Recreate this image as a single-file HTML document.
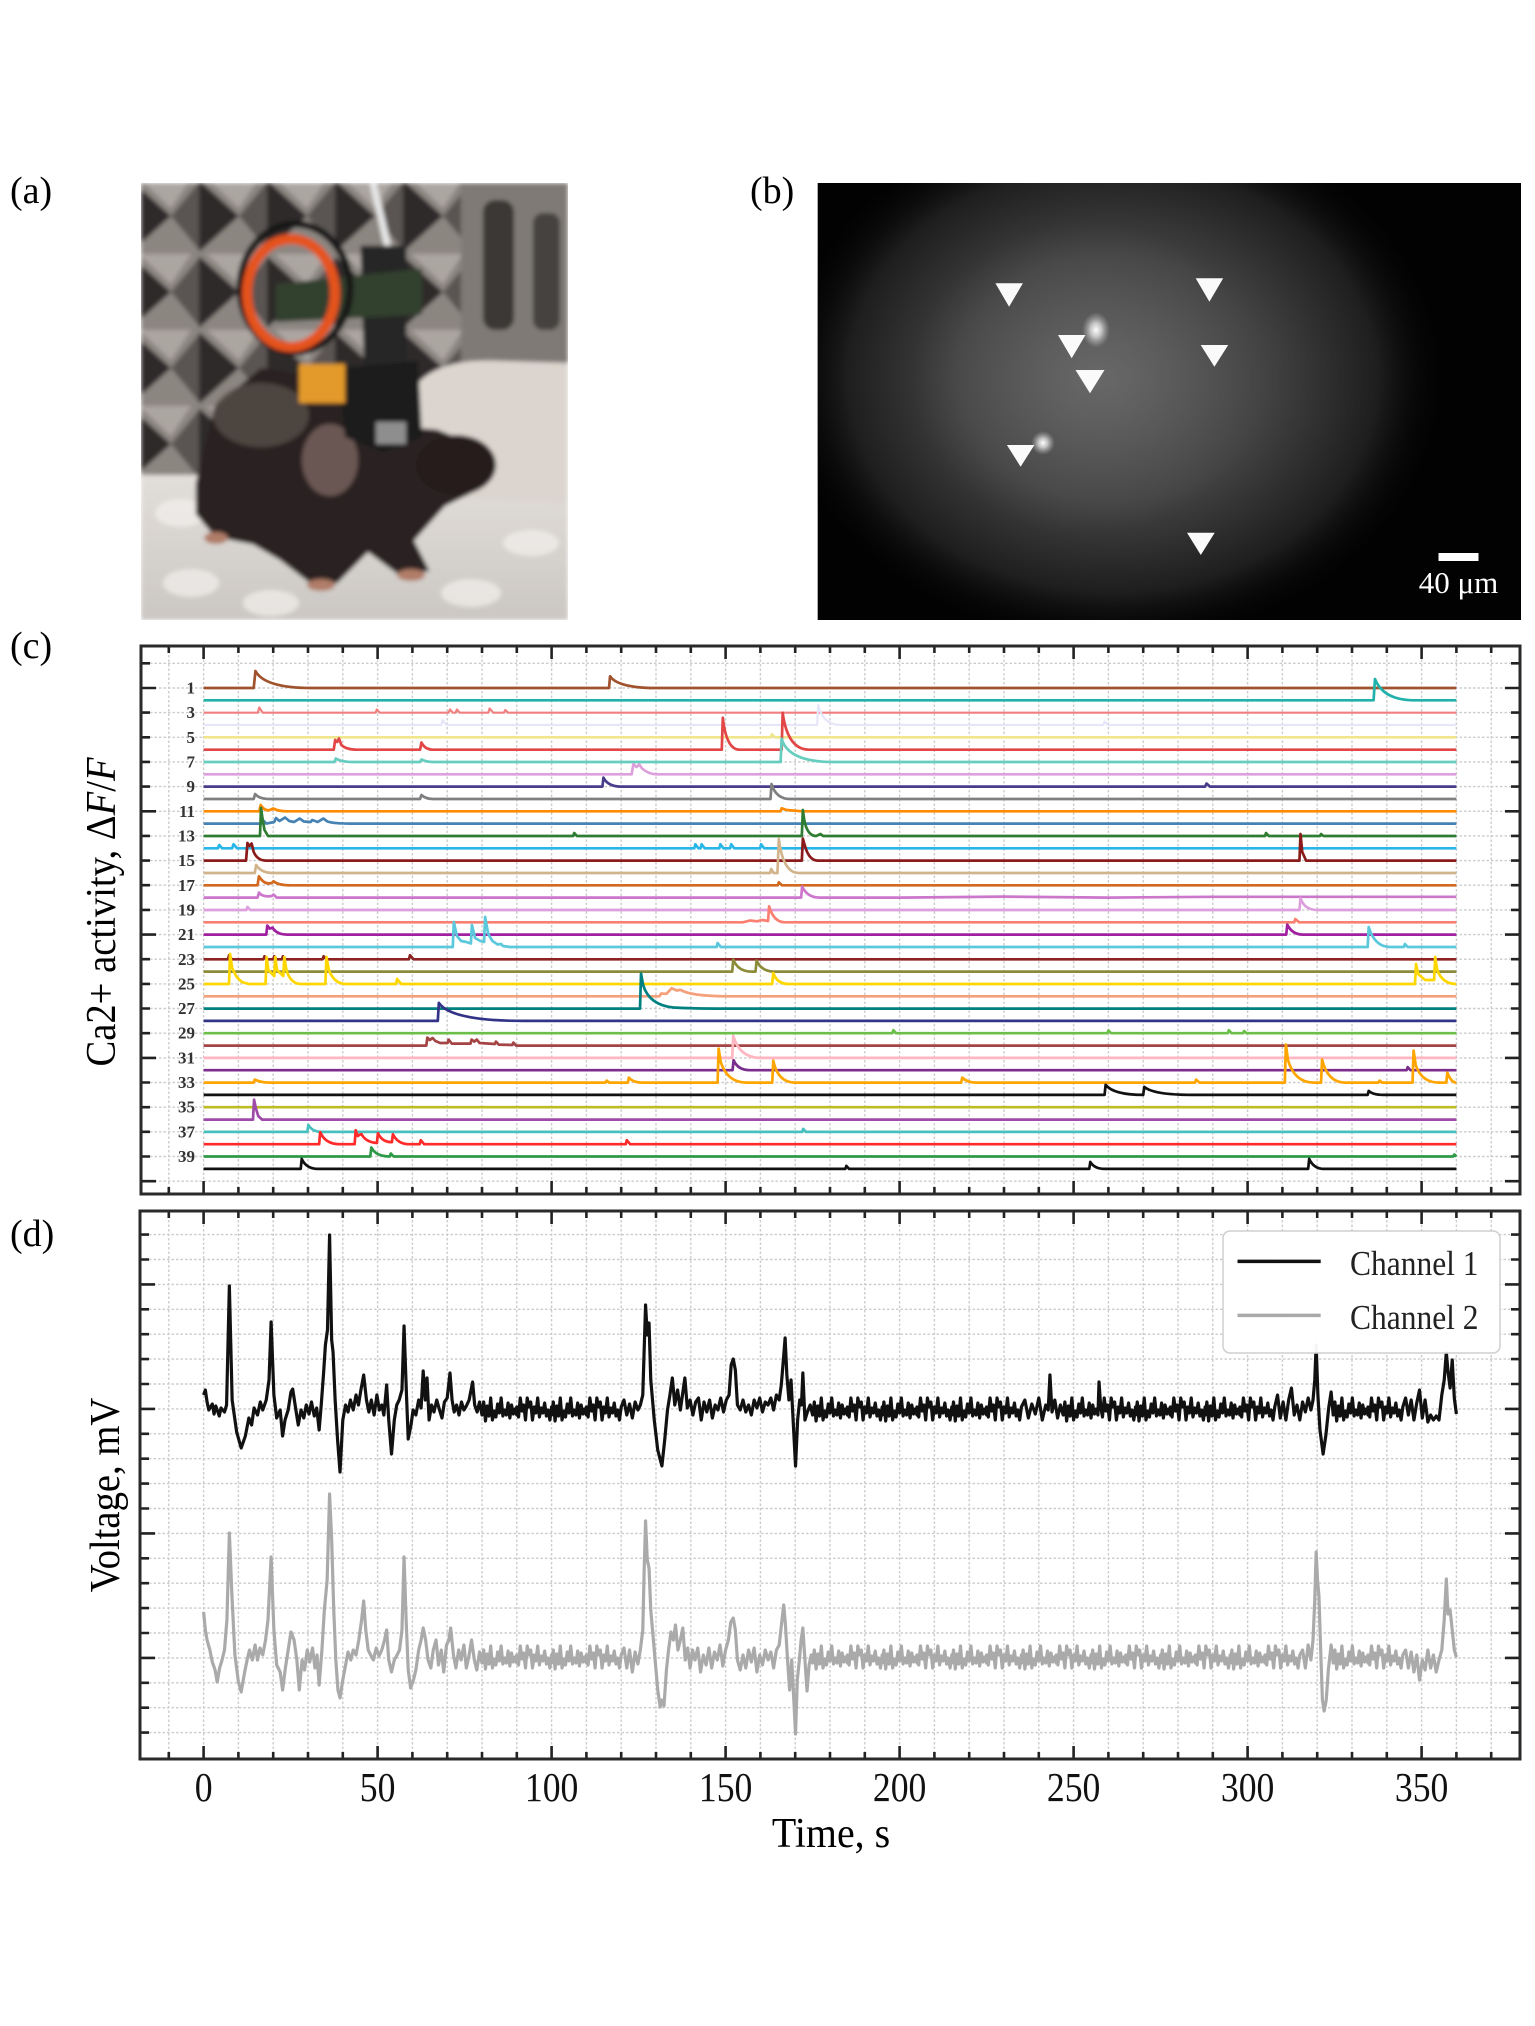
<!DOCTYPE html>
<html><head><meta charset="utf-8">
<style>
html,body{margin:0;padding:0;background:#fff;}
body{width:1535px;height:2026px;overflow:hidden;}
svg{display:block;}
.s path{vector-effect:non-scaling-stroke;}
text{font-family:"Liberation Serif",serif;}
</style></head>
<body>
<svg width="1535" height="2026" viewBox="0 0 1535 2026" xmlns="http://www.w3.org/2000/svg">
<defs>
<g id="xt" stroke="#222" stroke-width="2.6">
<path d="M203.6 0v13M377.6 0v13M551.6 0v13M725.6 0v13M899.6 0v13M1073.6 0v13M1247.6 0v13M1421.6 0v13"/>
<path d="M168.8 0v7M238.4 0v7M273.2 0v7M308 0v7M342.8 0v7M412.4 0v7M447.2 0v7M482 0v7M516.8 0v7M586.4 0v7M621.2 0v7M656 0v7M690.8 0v7M760.4 0v7M795.2 0v7M830 0v7M864.8 0v7M934.4 0v7M969.2 0v7M1004 0v7M1038.8 0v7M1108.4 0v7M1143.2 0v7M1178 0v7M1212.8 0v7M1282.4 0v7M1317.2 0v7M1352 0v7M1386.8 0v7M1456.4 0v7M1491.2 0v7"/>
</g>
<path id="yc" stroke="#222" stroke-width="2.6" d="M0 663.3h9M0 688h15M0 712.6h9M0 737.3h9M0 761.9h9M0 786.6h9M0 811.3h15M0 835.9h9M0 860.6h9M0 885.2h9M0 909.9h9M0 934.6h15M0 959.2h9M0 983.9h9M0 1008.5h9M0 1033.2h9M0 1057.9h15M0 1082.5h9M0 1107.2h9M0 1131.8h9M0 1156.5h9M0 1181.2h15"/>
<path id="yd" stroke="#222" stroke-width="2.6" d="M0 1234.6h9M0 1259.5h9M0 1284.4h15M0 1309.3h9M0 1334.2h9M0 1359.1h9M0 1384h9M0 1408.9h15M0 1433.8h9M0 1458.7h9M0 1483.6h9M0 1508.5h9M0 1533.4h15M0 1558.3h9M0 1583.2h9M0 1608.1h9M0 1633h9M0 1657.9h15M0 1682.8h9M0 1707.7h9M0 1732.6h9"/>
<path id="vg" stroke="#cccccc" stroke-width="1.4" stroke-dasharray="2.5 2" fill="none" d="M168.8 0V548M203.6 0V548M238.4 0V548M273.2 0V548M308 0V548M342.8 0V548M377.6 0V548M412.4 0V548M447.2 0V548M482 0V548M516.8 0V548M551.6 0V548M586.4 0V548M621.2 0V548M656 0V548M690.8 0V548M725.6 0V548M760.4 0V548M795.2 0V548M830 0V548M864.8 0V548M899.6 0V548M934.4 0V548M969.2 0V548M1004 0V548M1038.8 0V548M1073.6 0V548M1108.4 0V548M1143.2 0V548M1178 0V548M1212.8 0V548M1247.6 0V548M1282.4 0V548M1317.2 0V548M1352 0V548M1386.8 0V548M1421.6 0V548M1456.4 0V548M1491.2 0V548"/>
</defs>

<!-- Panel labels -->
<text x="10" y="203" font-size="38">(a)</text>
<text x="750" y="203" font-size="38">(b)</text>
<text x="10" y="658" font-size="38">(c)</text>
<text x="10" y="1246" font-size="38">(d)</text>

<!-- (a) photo -->
<svg x="141" y="183" width="427" height="437" viewBox="0 0 427 437">
<defs>
<pattern id="foam" width="68" height="76" patternUnits="userSpaceOnUse" x="-10" y="-5">
<rect width="68" height="76" fill="#8c8681"/>
<polygon points="0,2 40,38 0,74" fill="#2f2b29"/>
<polygon points="40,38 68,4 68,72" fill="#5a5552"/>
<polygon points="8,0 60,0 40,30" fill="#aca6a1"/>
</pattern>
<filter id="bl" x="-5%" y="-5%" width="110%" height="110%"><feGaussianBlur stdDeviation="2"/></filter>
<linearGradient id="flr" x1="0" y1="0" x2="0" y2="1"><stop offset="0" stop-color="#e2deda"/><stop offset="1" stop-color="#cbc7c3"/></linearGradient>
</defs>
<g filter="url(#bl)">
<rect width="427" height="437" fill="#807a76"/>
<rect x="0" y="0" width="335" height="300" fill="url(#foam)"/>
<rect x="320" y="0" width="107" height="200" fill="#7f7a76"/>
<rect x="342" y="17" width="31" height="130" rx="12" fill="#3a3735"/>
<rect x="392" y="30" width="27" height="117" rx="10" fill="#454240"/>
<rect x="0" y="292" width="427" height="145" fill="url(#flr)"/>
<ellipse cx="40" cy="330" rx="26" ry="14" fill="#f2efec" opacity=".7"/>
<ellipse cx="50" cy="400" rx="28" ry="14" fill="#f2efec" opacity=".7"/>
<ellipse cx="130" cy="420" rx="28" ry="13" fill="#f2efec" opacity=".7"/>
<ellipse cx="330" cy="410" rx="30" ry="14" fill="#f2efec" opacity=".7"/>
<ellipse cx="390" cy="360" rx="28" ry="13" fill="#f2efec" opacity=".7"/>
<path d="M277 200Q300 175 360 178L427 180L427 320L300 315Q275 260 277 200Z" fill="#dcd5cf"/>
<line x1="232" y1="0" x2="258" y2="112" stroke="#e6e6e6" stroke-width="7"/>
<path d="M54.8 300L74 223.5L120 185L173.6 193L208 208L250 243L296 246.5L334.5 262L353.6 285L334.5 308L304 323L273 357.6L288.5 388L258 392L227 369L196.5 400L173.6 403.6L139 377L112 361.4L74 354L54.8 331Z" fill="#2c2422"/>
<ellipse cx="120" cy="232" rx="48" ry="32" fill="#5a504a" opacity=".75"/>
<ellipse cx="315" cy="282" rx="40" ry="30" fill="#261d1b"/>
<ellipse cx="189" cy="277" rx="28" ry="36" fill="#6a5652"/>
<ellipse cx="75" cy="355" rx="12" ry="6" fill="#b07d68"/>
<ellipse cx="270" cy="392" rx="14" ry="6" fill="#b07d68"/>
<ellipse cx="180" cy="402" rx="14" ry="6" fill="#b07d68"/>
<polygon points="219.5,62.6 265.5,62.6 265.5,185 223,185" fill="#262626"/>
<polygon points="196.5,185 277,177.5 281,254 242.5,269.5 204,254" fill="#1b1b1b"/>
<rect x="235" y="239" width="30" height="22" fill="#8e8e8e"/>
<polygon points="135,101 281,85.6 281,131.6 135,139" fill="#33402f"/>
<ellipse cx="154" cy="105" rx="55" ry="64" fill="none" stroke="#161616" stroke-width="7"/>
<ellipse cx="150" cy="110" rx="44" ry="54" fill="none" stroke="#e6521f" stroke-width="10"/>
<rect x="158" y="181" width="46" height="39" fill="#e39a2c"/>
</g>
</svg>

<!-- (b) fluorescence image -->
<svg x="817.6" y="183" width="703.4" height="437" viewBox="0 0 703.4 437">
<defs>
<radialGradient id="g1" cx="0.5" cy="0.5" r="0.5"><stop offset="0" stop-color="#5a5a5a"/><stop offset="0.45" stop-color="#434343"/><stop offset="0.78" stop-color="#1e1e1e"/><stop offset="1" stop-color="#000" stop-opacity="0"/></radialGradient>
<radialGradient id="g2"><stop offset="0" stop-color="#7a7a7a" stop-opacity="0.45"/><stop offset="1" stop-color="#7a7a7a" stop-opacity="0"/></radialGradient>
<radialGradient id="g3"><stop offset="0" stop-color="#fff"/><stop offset="0.4" stop-color="#ddd" stop-opacity="0.8"/><stop offset="1" stop-color="#aaa" stop-opacity="0"/></radialGradient>
</defs>
<rect width="703.4" height="437" fill="#020202"/>
<ellipse cx="295" cy="195" rx="340" ry="275" fill="url(#g1)"/>
<ellipse cx="270" cy="195" rx="175" ry="155" fill="url(#g2)"/>
<ellipse cx="278.4" cy="147" rx="14" ry="18" fill="url(#g3)"/>
<ellipse cx="225.4" cy="260" rx="12" ry="12" fill="url(#g3)"/>
<g fill="#fafafa">
<polygon points="177.8,100.3 205.3,100.3 191.5,123.7"/>
<polygon points="378.1,95.3 405.6,95.3 391.8,118.7"/>
<polygon points="240.4,152 267.9,152 254.1,175.3"/>
<polygon points="383.1,162 410.6,162 396.8,183.7"/>
<polygon points="257.9,187 286.9,187 272.4,210.3"/>
<polygon points="189.3,262 216.8,262 203,283.7"/>
<polygon points="369.4,349.7 397.1,349.7 383.2,372"/>
</g>
<rect x="620.9" y="370" width="40" height="8" fill="#fff"/>
<text x="640.9" y="410" font-size="31" fill="#fff" text-anchor="middle">40 μm</text>
</svg>

<!-- (c) plot -->
<rect x="141" y="646" width="1379" height="548" fill="#fff"/>
<use href="#vg" y="646"/>
<path stroke="#cccccc" stroke-width="1.4" stroke-dasharray="2.5 2" fill="none" d="M141 663.3H1520M141 688H1520M141 712.6H1520M141 737.3H1520M141 761.9H1520M141 786.6H1520M141 811.3H1520M141 835.9H1520M141 860.6H1520M141 885.2H1520M141 909.9H1520M141 934.6H1520M141 959.2H1520M141 983.9H1520M141 1008.5H1520M141 1033.2H1520M141 1057.9H1520M141 1082.5H1520M141 1107.2H1520M141 1131.8H1520M141 1156.5H1520M141 1181.2H1520"/>

<g class="s" transform="translate(203.6,0) scale(3.48,1)" fill="none" stroke-width="2.7" stroke-linejoin="round">
<path stroke="#a0522d" d="M0 688H14.4L14.9 671Q17.5 688 31 688H116.5L116.8 676.3Q119 688 130 688H360"/>
<path stroke="#20b2aa" d="M0 700.3H336.2L336.6 679Q339 700.3 348 700.3H360"/>
<path stroke="#f08080" stroke-width="2.2" d="M0 712.7H15.6L16 707.5L17 712.7H49.4L49.8 709.5L50.6 712.7H70.4L70.8 709.5L71.6 712.7H72.4L72.8 709.5L73.6 712.7H81.8L82.2 708.5L83.2 712.7H86.3L86.7 710L87.5 712.7H360"/>
<path stroke="#e6e6fa" stroke-width="2.2" d="M0 725H68.3L68.7 720L69.8 725H176.3L176.6 705Q178 725 183 725H258.5L258.9 721.5L259.8 725H360"/>
<path stroke="#f0e68c" d="M0 737.3H163L163.3 734.3L164.2 737.3H360"/>
<path stroke="#e34646" d="M0 749.7H37.4L37.8 740L38.4 742L38.9 738.5L39.6 745Q41 749.7 44 749.7H62.2L62.6 742.5Q63.6 749.7 66 749.7H148.9L149.2 717.7Q150.2 749.7 154 749.7H166.1L166.4 712.7Q167.8 749.7 174 749.7H360"/>
<path stroke="#66cdbf" d="M0 762H37.6L38 758.5Q39.5 762 43 762H62.2L62.6 759.5Q64 762 66 762H165.8L166.1 738.7Q168 762 181 762H360"/>
<path stroke="#dda0dd" d="M0 774.3H123L123.5 764.3L124.4 767L125.2 764.5L126 768.5Q128 774.3 130 774.3H360"/>
<path stroke="#483d8b" d="M0 786.6H114.6L114.9 777.6Q116.2 786.6 120 786.6H287.8L288.2 783.5L289.2 786.6H360"/>
<path stroke="#808080" d="M0 799H14.4L14.8 794Q16 799 19 799H62.2L62.6 795Q63.8 799 66 799H162.9L163.2 784Q164.5 799 168.5 799H360"/>
<path stroke="#ff8c00" d="M0 811.3H16L16.4 805Q17.5 811.3 19 810L20 808.5Q21.5 811.3 24 811.3H165.8L166.1 808.3L167.5 810L172 811.3H360"/>
<path stroke="#4682b4" d="M0 823.6H16.6L17 820L18 823.6L20.3 822L20.8 818L21.8 821L23.4 817.5L24.6 821L26 822L27.6 818.5L28.8 821.5L30.8 822L31.2 820L32.8 822L34.4 818.5L35.6 821.5Q37.5 823.6 42 823.6H360"/>
<path stroke="#2e7d32" d="M0 836H16.2L16.5 808L16.9 818L17.5 830L18.5 836H106.2L106.5 833L107.3 836H171.9L172.2 810L172.6 820Q173.5 836 176 836L177.3 834L178 836H305L305.3 833L306.1 836H320.8L321.1 834L321.8 836H360"/>
<path stroke="#29b6e8" d="M0 848.3H4.1L4.5 845L5.3 848.3H8.2L8.6 844.3L9.6 848.3H141L141.3 844.3L142.2 848.3H142.8L143.1 844.3L144 848.3H148.2L148.5 844.3L149.4 848.3H151.3L151.6 844.3L152.5 848.3H159.9L160.2 844.3L161.1 848.3H360"/>
<path stroke="#8b1a1a" d="M0 860.6H12.2L12.6 843L13.2 846L13.8 843.5L14.4 852Q15.5 860.6 18 860.6H171.9L172.2 838.6L172.8 846Q174 860.6 176.5 860.6H314.9L315.2 834L315.7 852L316.8 860.6H360"/>
<path stroke="#d2b48c" d="M0 873H14.7L15.1 865Q16.5 873 20 873H162.8L163.1 869L163.8 873H164.9L165.3 839Q166.5 873 171 873H360"/>
<path stroke="#d2691e" d="M0 885.3H15.5L15.9 876.3Q17.5 885.3 19.6 883L20.1 881.3Q21.5 885.3 25 885.3H165L165.3 882.3L166.2 885.3H360"/>
<path stroke="#cc77cc" d="M0 897.6H15.5L15.9 892.6Q17 897.6 19.6 896L20.1 894.6L21 897.6H171.7L172 886.6Q173.5 897.6 177 897.6H200L230 896.6L260 897.6L290 896.8H360"/>
<path stroke="#dda0dd" d="M0 910H12.3L12.6 907L13.4 910H314.9L315.2 898Q316.3 910 320 910H360"/>
<path stroke="#fa8072" d="M0 922.3H155L157 920.5L159 921.3L160.5 920L162.2 921L162.5 906.3Q163.8 922.3 167 922.3H313.4L313.7 919L314.8 922.3H360"/>
<path stroke="#a020a0" d="M0 934.6H18L18.3 925.6L19 928.6L19.8 927.6Q21 934.6 24 934.6H311.1L311.4 924.6Q312.8 934.6 316 934.6H360"/>
<path stroke="#5bc8dc" d="M0 947H71.6L71.9 922L72.8 936L74 941L75.5 942L76.8 943.5L77.1 925L78 938L79.5 941L80.6 942L80.9 917L81.8 934L83 941L84.5 944.5L85.5 944L86 946L88 947H147.4L147.7 943L148.6 947H334.5L334.8 927Q336.5 947 341 947H344.9L345.2 944L346 947H360"/>
<path stroke="#8b2323" d="M0 959.3H7L7.3 955.3L8.1 959.3H17.2L17.5 956.3L18.2 959.3H20L20.3 956.3L21 959.3H22.5L22.8 956.3L23.5 959.3H34.2L34.5 956.3L35.3 959.3H59L59.3 955.3L60.3 959.3H360"/>
<path stroke="#8b8b3a" d="M0 971.6H151.9L152.2 959.6Q153.6 971.6 157.5 971.6H158.6L158.9 960.6Q160.3 971.6 164 971.6H360"/>
<path stroke="#ffd700" d="M0 984H7.3L7.6 954L8.2 968L9.5 977L11 982L13 984H17.8L18.1 957L18.6 970L20.3 976L20.6 957L21.1 970L22.9 976L23.2 957L23.8 970Q25 984 28 984H35L35.3 957L36 970Q37.5 984 41 984H55.3L55.6 979L56.8 984H163.4L163.7 973Q164.8 984 168 984H348.1L348.4 964L349 974L351 980L353.6 980L353.9 957L354.5 970Q356 984 360 984"/>
<path stroke="#f4a07a" d="M0 996.3H131L131.5 993.5L133 993.8L134.5 988.3L136 990.5L137 989.8Q140 996 150 996.3H360"/>
<path stroke="#008080" d="M0 1008.6H125.4L125.7 973.6L126.3 985Q128 1005 135 1007.5Q140 1008.6 150 1008.6H360"/>
<path stroke="#333388" d="M0 1020.9H67.3L67.6 1002.9Q71 1020.9 92 1020.9H360"/>
<path stroke="#6cc04a" d="M0 1033.2H197.9L198.2 1030.2L199 1033.2H259.7L260 1030.5L260.8 1033.2H294.3L294.6 1030.2L295.4 1033.2H298.7L299 1031L299.7 1033.2H360"/>
<path stroke="#a54444" d="M0 1045.6H64L64.3 1037.6L65 1040L65.8 1038L66.6 1041L68 1043L70.1 1043L70.4 1039.6L71.3 1043.6L76.7 1043.6L77 1039.6L77.8 1041.6L78.5 1039.6L79.3 1043L83.7 1044L84 1041.6L84.8 1044.6L88.7 1045L89 1042.6L89.8 1045.6H360"/>
<path stroke="#ffb6c1" d="M0 1057.9H151.9L152.2 1035.9Q154 1057.9 160 1057.9H360"/>
<path stroke="#7b2d8e" d="M0 1070.2H152L152.3 1060.2Q153.5 1070.2 157 1070.2H345.7L346 1067.2L346.8 1070.2H360"/>
<path stroke="#ffa500" d="M0 1082.6H14.4L14.7 1079.6Q16.5 1082.6 19 1082.6H115.5L115.8 1080.6L116.6 1082.6H121.9L122.2 1077.6Q123.5 1082.6 126 1082.6H147.7L148 1048.6L148.6 1062Q150.5 1082.6 156 1082.6H163.4L163.7 1060.6Q165 1082.6 170 1082.6H217.7L218 1077.6Q219.5 1082.6 222 1082.6H284.9L285.2 1079.6L286.2 1082.6H310.7L311 1044.6L311.6 1060Q313.5 1082.6 319 1082.6H321.1L321.4 1059.6Q323 1082.6 328 1082.6H337.6L337.9 1080.6L338.7 1082.6H347.4L347.7 1050.6L348.3 1065Q350 1082.6 355 1082.6H357.1L357.4 1072.6Q358.5 1082.6 360 1082.6"/>
<path stroke="#111" d="M0 1094.9H258.9L259.2 1084.9Q261.5 1094.9 270 1094.9L270.3 1086.9Q273 1094.9 284 1094.9H334.5L334.8 1090.9Q336 1094.9 339 1094.9H360"/>
<path stroke="#bcbd22" d="M0 1107.2H360"/>
<path stroke="#9e4aa8" d="M0 1119.6H14.2L14.5 1099.6L15 1108L15.7 1116L16.8 1119.6H360"/>
<path stroke="#48c0c0" d="M0 1131.9H29.8L30.1 1124.9Q31.2 1131.9 34 1131.9H172L172.3 1128.9L173.1 1131.9H360"/>
<path stroke="#ff2a2a" d="M0 1144.2H33.2L33.5 1132.2Q35 1144.2 39 1144.2H43.4L43.7 1130.2L44.3 1136L45.1 1134.2L45.4 1134.2Q46.5 1142 49.8 1143L50.1 1133.2Q51.3 1142.2 54.1 1142.2L54.4 1134.2Q55.8 1144.2 59 1144.2H62.1L62.4 1140.2L63.4 1144.2H121.3L121.6 1140.2L122.6 1144.2H360"/>
<path stroke="#2e9a48" d="M0 1156.5H47.9L48.2 1147.5Q49.5 1156.5 53.5 1156.5L53.8 1153.5L54.6 1156.5H359.1L359.4 1154.5L360 1156.5"/>
<path stroke="#111" d="M0 1168.9H27.9L28.2 1158.9Q29.5 1168.9 33 1168.9H184.4L184.7 1165.9L185.5 1168.9H254.5L254.8 1161.9Q256 1168.9 259 1168.9H317.4L317.7 1158.9Q319 1168.9 322 1168.9H360"/>
</g>

<g font-size="17" font-weight="bold" fill="#333" text-anchor="end">
<text x="195" y="693.5">1</text><text x="195" y="718.2">3</text><text x="195" y="742.8">5</text><text x="195" y="767.5">7</text><text x="195" y="792.1">9</text><text x="195" y="816.8">11</text><text x="195" y="841.5">13</text><text x="195" y="866.1">15</text><text x="195" y="890.8">17</text><text x="195" y="915.5">19</text><text x="195" y="940.1">21</text><text x="195" y="964.8">23</text><text x="195" y="989.5">25</text><text x="195" y="1014.1">27</text><text x="195" y="1038.7">29</text><text x="195" y="1063.4">31</text><text x="195" y="1088.1">33</text><text x="195" y="1112.7">35</text><text x="195" y="1137.4">37</text><text x="195" y="1162">39</text>
</g>

<use href="#xt" transform="translate(0,646)"/>
<use href="#xt" transform="translate(0,1194) scale(1,-1)"/>
<use href="#yc" transform="translate(141,0)"/>
<use href="#yc" transform="translate(1520,0) scale(-1,1)"/>
<rect x="141" y="646" width="1379" height="548" fill="none" stroke="#2a2a2a" stroke-width="3"/>

<text transform="translate(115,912) rotate(-90) scale(0.92,1)" font-size="42" text-anchor="middle">Ca2+ activity, Δ<tspan font-style="italic">F</tspan>/<tspan font-style="italic">F</tspan></text>

<!-- (d) plot -->
<rect x="140" y="1211" width="1380" height="548" fill="#fff"/>
<use href="#vg" y="1211"/>
<path stroke="#cccccc" stroke-width="1.4" stroke-dasharray="2.5 2" fill="none" d="M140 1234.6H1520M140 1259.5H1520M140 1284.4H1520M140 1309.3H1520M140 1334.2H1520M140 1359.1H1520M140 1384H1520M140 1408.9H1520M140 1433.8H1520M140 1458.7H1520M140 1483.6H1520M140 1508.5H1520M140 1533.4H1520M140 1558.3H1520M140 1583.2H1520M140 1608.1H1520M140 1633H1520M140 1657.9H1520M140 1682.8H1520M140 1707.7H1520M140 1732.6H1520"/>

<g class="s" transform="translate(203.6,0) scale(3.48,1)" fill="none" stroke-width="3.2" stroke-linejoin="round">
<path stroke="#aaaaaa" d="M0 1612L0.5 1630L1 1640L1.8 1650L2.5 1662L3.3 1670L3.9 1682L4.6 1668L5.3 1660L6 1650L6.7 1620L7.4 1533L8.2 1600L9 1655L10 1682L10.8 1692L11.8 1672L12.5 1660L13.2 1650L14 1660L14.8 1645L15.5 1660L16.2 1648L17 1655L17.8 1640L18.5 1620L19.4 1557L20.2 1630L21 1665L22 1672L22.7 1690L23.5 1668L24.3 1650L25.1 1632L26 1640L26.8 1660L27.5 1690L28.3 1660L29 1670L29.8 1650L30.5 1662L31.3 1648L32 1668L32.6 1655L33.2 1685L34 1650L34.7 1610L35.5 1580L36.2 1494L36.8 1540L37.4 1610L38 1660L38.6 1690L39.2 1698L40 1680L40.8 1665L41.5 1652L42.3 1660L43 1650L43.8 1655L44.6 1640L45.4 1620L46 1601L46.6 1630L47.3 1650L48 1655L48.8 1660L49.6 1648L50.4 1656L51.2 1650L52 1640L52.6 1630L53.2 1660L54 1672L54.8 1660L55.6 1655L56.3 1650L57 1630L57.6 1557L58.2 1620L58.8 1670L59.5 1688L60.3 1680L61 1670L61.8 1650L62.5 1640L63.1 1628L63.8 1640L64.5 1660L65.3 1668L66 1650L66.8 1640L67.5 1665L68.3 1650L69 1672L69.8 1645L70.5 1640L71 1628L71.8 1655L72.5 1668L73.3 1650L74 1660L74.8 1645L75.5 1668L76.3 1655L77 1640L77.8 1660L78.5 1670L79.3 1652L80 1663l.5 -13l.5 19l.5 -15l.5 10l.5 -18l.5 22l.5 -9l.5 6l.5 -13l.5 9l.5 -15l.5 18l.5 -6l.5 5l.5 -12l.5 15l.5 -13l.5 9l.5 -5l.5 6L90 1655l.5 10l.5 -19l.5 13l.5 -6l.5 15l.5 -22l.5 9l.5 -5l.5 18l.5 -13l.5 6l.5 -15l.5 19l.5 -9l.5 5l.5 -10l.5 13l.5 -6l.5 10l.5 -13L100 1663l.5 -13l.5 19l.5 -15l.5 10l.5 -18l.5 22l.5 -9l.5 6l.5 -13l.5 9l.5 -15l.5 18l.5 -6l.5 5l.5 -12l.5 15l.5 -13l.5 9l.5 -5l.5 6L110 1655l.5 10l.5 -19l.5 13l.5 -6l.5 15l.5 -22l.5 9l.5 -5l.5 18l.5 -13l.5 6l.5 -15l.5 19l.5 -9l.5 5l.5 -10l.5 13l.5 -6l.5 10l.5 -13L120.8 1648L121.6 1668L122.4 1650L123.2 1672L124 1652L124.8 1664L125.5 1650L126.2 1630L126.6 1570L127 1521L127.5 1560L128 1568L128.5 1610L129.5 1650L130.5 1690L131.2 1707L131.7 1700L132.3 1706L133 1670L133.6 1650L134.3 1632L135 1640L135.6 1625L136.3 1650L137 1640L137.7 1628L138.4 1660L139.1 1648L139.8 1668L140.5 1650L141.2 1660L142 1648L142.8 1672L143.6 1655L144.4 1665L145.2 1648L146 1668L146.8 1652L147.6 1660L148.4 1645L149.2 1666L150 1650L150.8 1640L151.5 1622L152.2 1618L152.8 1630L153.4 1660L154.2 1670L155 1655L155.8 1668L156.6 1650L157.4 1662L158.2 1648L159 1672L159.8 1655L160.6 1665L161.4 1650L162.2 1660L163 1652L163.8 1668L164.6 1650L165.4 1645L166.2 1620L166.7 1605L167.2 1625L167.8 1660L168.4 1690L169 1660L169.6 1700L170.1 1734L170.6 1680L171.2 1660L171.7 1640L172.2 1628L172.8 1660L173.4 1691L174 1665L174.6 1655L175 1663l.5 -13l.5 19l.5 -15l.5 10l.5 -18l.5 22l.5 -9l.5 6l.5 -13l.5 9l.5 -15l.5 18l.5 -6l.5 5l.5 -12l.5 15l.5 -13l.5 9l.5 -5l.5 6L185 1655l.5 10l.5 -19l.5 13l.5 -6l.5 15l.5 -22l.5 9l.5 -5l.5 18l.5 -13l.5 6l.5 -15l.5 19l.5 -9l.5 5l.5 -10l.5 13l.5 -6l.5 10l.5 -13L195 1663l.5 -13l.5 19l.5 -15l.5 10l.5 -18l.5 22l.5 -9l.5 6l.5 -13l.5 9l.5 -15l.5 18l.5 -6l.5 5l.5 -12l.5 15l.5 -13l.5 9l.5 -5l.5 6L205 1655l.5 10l.5 -19l.5 13l.5 -6l.5 15l.5 -22l.5 9l.5 -5l.5 18l.5 -13l.5 6l.5 -15l.5 19l.5 -9l.5 5l.5 -10l.5 13l.5 -6l.5 10l.5 -13L215 1663l.5 -13l.5 19l.5 -15l.5 10l.5 -18l.5 22l.5 -9l.5 6l.5 -13l.5 9l.5 -15l.5 18l.5 -6l.5 5l.5 -12l.5 15l.5 -13l.5 9l.5 -5l.5 6L225 1655l.5 10l.5 -19l.5 13l.5 -6l.5 15l.5 -22l.5 9l.5 -5l.5 18l.5 -13l.5 6l.5 -15l.5 19l.5 -9l.5 5l.5 -10l.5 13l.5 -6l.5 10l.5 -13L235 1663l.5 -13l.5 19l.5 -15l.5 10l.5 -18l.5 22l.5 -9l.5 6l.5 -13l.5 9l.5 -15l.5 18l.5 -6l.5 5l.5 -12l.5 15l.5 -13l.5 9l.5 -5l.5 6L245 1655l.5 10l.5 -19l.5 13l.5 -6l.5 15l.5 -22l.5 9l.5 -5l.5 18l.5 -13l.5 6l.5 -15l.5 19l.5 -9l.5 5l.5 -10l.5 13l.5 -6l.5 10l.5 -13L255 1663l.5 -13l.5 19l.5 -15l.5 10l.5 -18l.5 22l.5 -9l.5 6l.5 -13l.5 9l.5 -15l.5 18l.5 -6l.5 5l.5 -12l.5 15l.5 -13l.5 9l.5 -5l.5 6L265 1655l.5 10l.5 -19l.5 13l.5 -6l.5 15l.5 -22l.5 9l.5 -5l.5 18l.5 -13l.5 6l.5 -15l.5 19l.5 -9l.5 5l.5 -10l.5 13l.5 -6l.5 10l.5 -13L275 1663l.5 -13l.5 19l.5 -15l.5 10l.5 -18l.5 22l.5 -9l.5 6l.5 -13l.5 9l.5 -15l.5 18l.5 -6l.5 5l.5 -12l.5 15l.5 -13l.5 9l.5 -5l.5 6L285 1655l.5 10l.5 -19l.5 13l.5 -6l.5 15l.5 -22l.5 9l.5 -5l.5 18l.5 -13l.5 6l.5 -15l.5 19l.5 -9l.5 5l.5 -10l.5 13l.5 -6l.5 10l.5 -13L295 1663l.5 -13l.5 19l.5 -15l.5 10l.5 -18l.5 22l.5 -9l.5 6l.5 -13l.5 9l.5 -15l.5 18l.5 -6l.5 5l.5 -12l.5 15l.5 -13l.5 9l.5 -5l.5 6L305 1655l.5 10l.5 -19l.5 13l.5 -6l.5 15l.5 -22l.5 9l.5 -5l.5 18l.5 -13l.5 6l.5 -15l.5 19l.5 -9l.5 5l.5 -10l.5 13l.5 -6l.5 10l.5 -13L315.8 1650L316.6 1668L317.4 1645L318.2 1660L318.8 1640L319.3 1600L319.7 1552L320.1 1580L320.5 1596L321 1650L321.5 1700L322 1711L322.6 1700L323.2 1670L324 1645L324.6 1663l.5 -13l.5 19l.5 -15l.5 10l.5 -18l.5 22l.5 -9l.5 6l.5 -13l.5 9l.5 -15l.5 18l.5 -6l.5 5l.5 -12l.5 15l.5 -13l.5 9l.5 -5l.5 6L334.6 1655l.5 10l.5 -19l.5 13l.5 -6l.5 15l.5 -22l.5 9l.5 -5l.5 18l.5 -13l.5 6l.5 -15l.5 19l.5 -9l.5 5l.5 -10l.5 13l.5 -6l.5 10l.5 -13L345.4 1650L346.2 1668L347 1652L347.8 1672L348.6 1655L349.4 1680L350.2 1660L351 1670L351.8 1650L352.6 1668L353.4 1655L354.2 1672L355 1660L355.8 1650L356.5 1620L357.1 1579L357.6 1614L358.2 1610L358.8 1630L359.4 1650L360 1657"/>
<path stroke="#111111" d="M0 1395L0.5 1390L1 1402L1.5 1410L2.5 1404L3 1414L3.5 1406L4.5 1416L5 1408L6 1412L6.6 1405L7.4 1286L8.2 1400L9.5 1432L10.8 1448L12 1436L13 1418L13.8 1425L14.5 1408L15.5 1415L16.3 1402L17 1410L18 1400L18.8 1380L19.4 1322L20.2 1395L21 1418L22 1410L22.7 1436L23.4 1420L24.3 1410L25.1 1392L25.6 1389L26.3 1405L27.2 1425L28 1410L28.8 1418L29.5 1405L30.3 1414L31 1402L31.8 1416L32.5 1408L33.2 1430L33.8 1405L34.5 1372L35 1345L35.6 1330L36.2 1235L36.8 1340L37.2 1352L37.8 1400L38.5 1440L39.2 1472L40 1420L40.8 1405L41.5 1412L42.2 1400L43 1410L43.8 1395L44.5 1405L45.2 1390L46 1375L46.8 1400L47.5 1412L48.2 1400L49 1415L49.8 1395L50.5 1410L51.2 1405L51.8 1415L52.6 1385L53.2 1420L54 1454L54.8 1420L55.5 1405L56.2 1400L57 1390L57.6 1326L58.3 1395L58.8 1439L59.6 1425L60.2 1410L61 1415L61.8 1400L62.5 1408L63.1 1371L63.7 1400L64.2 1378L64.8 1420L65.5 1405L66.2 1412L67 1400L67.8 1410L68.5 1418L69.2 1402L70 1398L70.8 1373L71.4 1400L72 1412L72.7 1405L73.4 1415L74.1 1402L74.8 1410L75.5 1406L76.3 1400L77.3 1382L77.9 1405L78.6 1412L79.3 1402L80 1415l.5 -13l.5 19l.5 -15l.5 10l.5 -18l.5 22l.5 -9l.5 6l.5 -13l.5 9l.5 -15l.5 18l.5 -6l.5 5l.5 -12l.5 15l.5 -13l.5 9l.5 -5l.5 6L90 1407l.5 10l.5 -19l.5 13l.5 -6l.5 15l.5 -22l.5 9l.5 -5l.5 18l.5 -13l.5 6l.5 -15l.5 19l.5 -9l.5 5l.5 -10l.5 13l.5 -6l.5 10l.5 -13L100 1415l.5 -13l.5 19l.5 -15l.5 10l.5 -18l.5 22l.5 -9l.5 6l.5 -13l.5 9l.5 -15l.5 18l.5 -6l.5 5l.5 -12l.5 15l.5 -13l.5 9l.5 -5l.5 6L110 1407l.5 10l.5 -19l.5 13l.5 -6l.5 15l.5 -22l.5 9l.5 -5l.5 18l.5 -13l.5 6l.5 -15l.5 19l.5 -9l.5 5l.5 -10l.5 13l.5 -6l.5 10l.5 -13L120.8 1400L121.6 1415L122.4 1404L123.2 1418L124 1402L124.8 1410L125.5 1405L126.2 1395L126.6 1350L127 1305L127.5 1335L128 1323L128.5 1380L129.5 1420L130.5 1450L131.7 1466L132.5 1440L133.3 1410L134 1395L134.7 1378L135.4 1405L136.2 1390L137 1410L137.6 1395L138.3 1378L139 1408L139.8 1400L140.6 1415L141.4 1402L142.2 1398L143 1420L143.8 1402L144.6 1412L145.4 1400L146.2 1418L147 1405L147.8 1410L148.6 1398L149.4 1412L150.2 1400L151 1395L151.6 1365L152.2 1359L152.8 1370L153.4 1405L154.2 1410L155 1400L155.8 1412L156.6 1405L157.4 1415L158.2 1400L159 1408L159.8 1398L160.6 1412L161.4 1402L162.2 1405L163 1398L163.8 1410L164.6 1395L165.4 1400L166 1385L166.6 1360L167.1 1338L167.6 1375L168.2 1400L168.8 1380L169.4 1420L170.1 1466L170.7 1420L171.3 1400L171.8 1405L172.2 1373L172.8 1420L173.5 1412L174.3 1405L175 1415l.5 -13l.5 19l.5 -15l.5 10l.5 -18l.5 22l.5 -9l.5 6l.5 -13l.5 9l.5 -15l.5 18l.5 -6l.5 5l.5 -12l.5 15l.5 -13l.5 9l.5 -5l.5 6L185 1407l.5 10l.5 -19l.5 13l.5 -6l.5 15l.5 -22l.5 9l.5 -5l.5 18l.5 -13l.5 6l.5 -15l.5 19l.5 -9l.5 5l.5 -10l.5 13l.5 -6l.5 10l.5 -13L195 1415l.5 -13l.5 19l.5 -15l.5 10l.5 -18l.5 22l.5 -9l.5 6l.5 -13l.5 9l.5 -15l.5 18l.5 -6l.5 5l.5 -12l.5 15l.5 -13l.5 9l.5 -5l.5 6L205 1407l.5 10l.5 -19l.5 13l.5 -6l.5 15l.5 -22l.5 9l.5 -5l.5 18l.5 -13l.5 6l.5 -15l.5 19l.5 -9l.5 5l.5 -10l.5 13l.5 -6l.5 10l.5 -13L215 1415l.5 -13l.5 19l.5 -15l.5 10l.5 -18l.5 22l.5 -9l.5 6l.5 -13l.5 9l.5 -15l.5 18l.5 -6l.5 5l.5 -12l.5 15l.5 -13l.5 9l.5 -5l.5 6L225 1407l.5 10l.5 -19l.5 13l.5 -6l.5 15l.5 -22l.5 9l.5 -5l.5 18l.5 -13l.5 6l.5 -15l.5 19l.5 -9l.5 5l.5 -10l.5 13l.5 -6l.5 10l.5 -13L236 1400L237 1418L238 1404L239 1414L240 1398L241 1420L242 1405L242.7 1410L243.2 1375L243.8 1412L244.6 1400L245.4 1418L246.2 1405L247 1415l.5 -13l.5 19l.5 -15l.5 10l.5 -18l.5 22l.5 -9l.5 6l.5 -13l.5 9l.5 -15l.5 18l.5 -6l.5 5l.5 -12l.5 15l.5 -13l.5 9l.5 -5l.5 6L257.3 1382L257.8 1407l.5 10l.5 -19l.5 13l.5 -6l.5 15l.5 -22l.5 9l.5 -5l.5 18l.5 -13l.5 6l.5 -15l.5 19l.5 -9l.5 5l.5 -10l.5 13l.5 -6l.5 10l.5 -13L267.8 1415l.5 -13l.5 19l.5 -15l.5 10l.5 -18l.5 22l.5 -9l.5 6l.5 -13l.5 9l.5 -15l.5 18l.5 -6l.5 5l.5 -12l.5 15l.5 -13l.5 9l.5 -5l.5 6L277.8 1407l.5 10l.5 -19l.5 13l.5 -6l.5 15l.5 -22l.5 9l.5 -5l.5 18l.5 -13l.5 6l.5 -15l.5 19l.5 -9l.5 5l.5 -10l.5 13l.5 -6l.5 10l.5 -13L287.8 1415l.5 -13l.5 19l.5 -15l.5 10l.5 -18l.5 22l.5 -9l.5 6l.5 -13l.5 9l.5 -15l.5 18l.5 -6l.5 5l.5 -12l.5 15l.5 -13l.5 9l.5 -5l.5 6L297.8 1407l.5 10l.5 -19l.5 13l.5 -6l.5 15l.5 -22l.5 9l.5 -5l.5 18l.5 -13l.5 6l.5 -15l.5 19l.5 -9l.5 5l.5 -10l.5 13l.5 -6l.5 10l.5 -13L308.6 1395L309.4 1418L310.2 1402L311 1420L311.8 1400L312.6 1388L313.4 1415L314.2 1405L315 1420L315.8 1402L316.6 1412L317.4 1398L318.2 1410L318.8 1400L319.3 1380L319.7 1345L320.2 1395L320.8 1430L321.7 1454L322.5 1435L323.3 1408L324 1392L324.6 1415l.5 -13l.5 19l.5 -15l.5 10l.5 -18l.5 22l.5 -9l.5 6l.5 -13l.5 9l.5 -15l.5 18l.5 -6l.5 5l.5 -12l.5 15l.5 -13l.5 9l.5 -5l.5 6L334.6 1407l.5 10l.5 -19l.5 13l.5 -6l.5 15l.5 -22l.5 9l.5 -5l.5 18l.5 -13l.5 6l.5 -15l.5 19l.5 -9l.5 5l.5 -10l.5 13l.5 -6l.5 10l.5 -13L345.4 1398L346.2 1415L347 1400L347.8 1420L348.6 1403L349.4 1390L350.2 1418L351 1400L351.8 1422L352.6 1415L353.4 1420L354.2 1416L355 1420L355.8 1395L356.5 1380L357.1 1352L357.6 1372L358.2 1388L358.8 1360L359.4 1398L360 1414"/>
</g>

<use href="#xt" transform="translate(0,1211)"/>
<use href="#xt" transform="translate(0,1759) scale(1,-1)"/>
<use href="#yd" transform="translate(140,0)"/>
<use href="#yd" transform="translate(1520,0) scale(-1,1)"/>

<!-- legend -->
<rect x="1223" y="1231" width="277" height="122" rx="7" fill="#fff" fill-opacity="0.96" stroke="#cfcfcf" stroke-width="1.5"/>
<line x1="1237.5" y1="1261.4" x2="1320.7" y2="1261.4" stroke="#111" stroke-width="3.5"/>
<line x1="1237.5" y1="1315.4" x2="1320.7" y2="1315.4" stroke="#aaaaaa" stroke-width="3.5"/>
<text transform="translate(1350,1275) scale(0.9,1)" font-size="35" fill="#222">Channel 1</text>
<text transform="translate(1350,1329) scale(0.9,1)" font-size="35" fill="#222">Channel 2</text>

<rect x="140" y="1211" width="1380" height="548" fill="none" stroke="#2a2a2a" stroke-width="3"/>

<text transform="translate(119,1495) rotate(-90) scale(0.92,1)" font-size="42" text-anchor="middle">Voltage, mV</text>

<g font-size="41" text-anchor="middle" fill="#111">
<text transform="translate(203.6,1801) scale(0.87,1)">0</text>
<text transform="translate(377.6,1801) scale(0.87,1)">50</text>
<text transform="translate(551.6,1801) scale(0.87,1)">100</text>
<text transform="translate(725.6,1801) scale(0.87,1)">150</text>
<text transform="translate(899.6,1801) scale(0.87,1)">200</text>
<text transform="translate(1073.6,1801) scale(0.87,1)">250</text>
<text transform="translate(1247.6,1801) scale(0.87,1)">300</text>
<text transform="translate(1421.6,1801) scale(0.87,1)">350</text>
</g>
<text transform="translate(831,1847) scale(0.95,1)" font-size="42" text-anchor="middle">Time, s</text>
</svg>
</body></html>
